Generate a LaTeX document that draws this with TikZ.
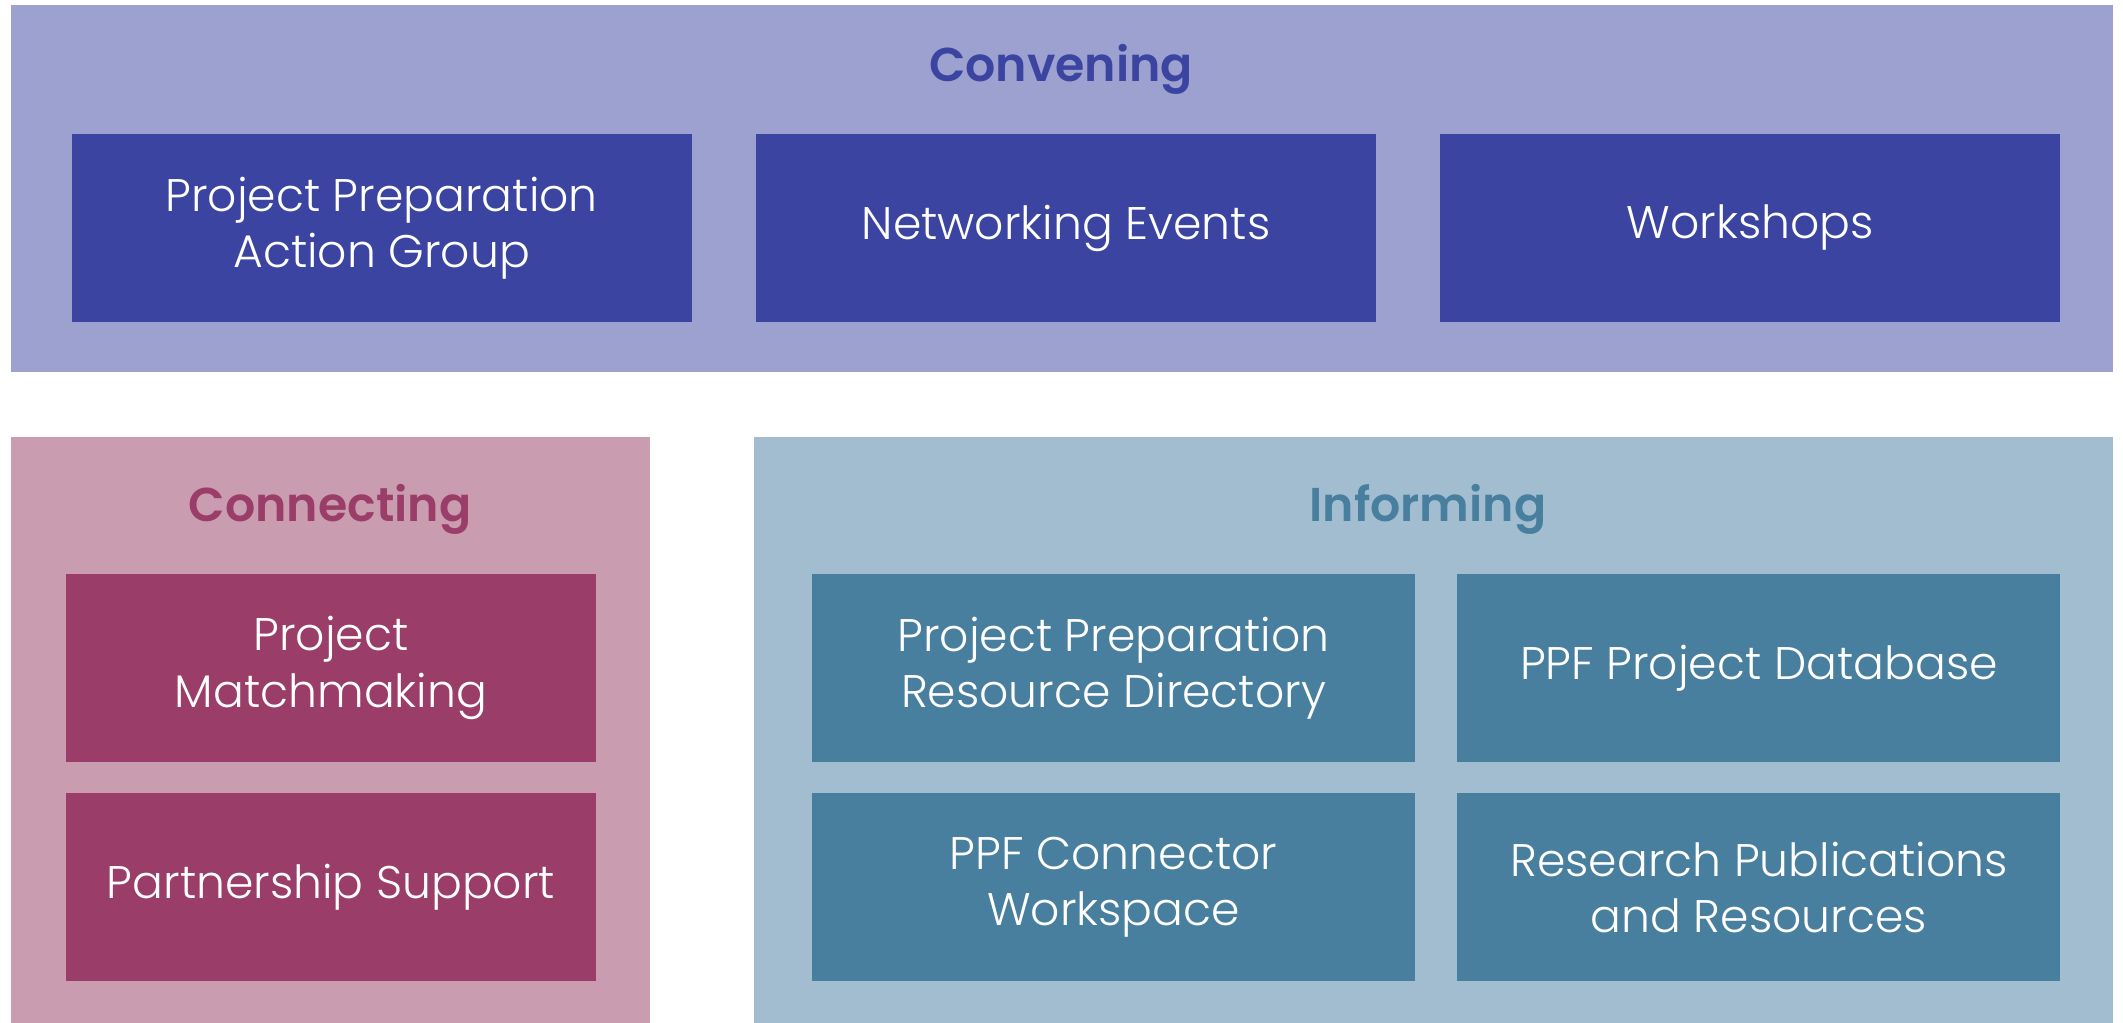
\documentclass[tikz,border=0pt]{standalone}
\usepackage{fontspec}
\setmainfont{Poppins}[UprightFont=* Light, BoldFont=* SemiBold]
\usetikzlibrary{positioning}

\definecolor{convLight}{HTML}{9CA1CF}
\definecolor{convDark}{HTML}{3B44A0}
\definecolor{connLight}{HTML}{C99CB0}
\definecolor{connDark}{HTML}{9A3D69}
\definecolor{infoLight}{HTML}{A3BDD0}
\definecolor{infoDark}{HTML}{487E9E}

\begin{document}
\begin{tikzpicture}[
    node distance=0.3cm,
    panel/.style={rectangle, inner sep=0pt},
    item/.style={rectangle, inner sep=0pt, minimum height=1.88cm, align=center,
        text=white, font=\fontsize{13}{16}\selectfont},
    heading/.style={font=\fontsize{13.5}{16}\selectfont\bfseries},
]
    \useasboundingbox (0,0) rectangle (21.23,10.23);

    % the three groups
    \node[panel, fill=convLight, minimum width=21.02cm, minimum height=3.67cm] (convening) at (10.62,8.345) {};
    \node[panel, fill=connLight, minimum width=6.39cm, minimum height=5.86cm] (connecting) at (3.305,2.93) {};
    \node[panel, fill=infoLight, minimum width=13.59cm, minimum height=5.86cm] (informing) at (14.335,2.93) {};

    \node[heading, text=convDark] (convTitle) at (10.61,9.54) {Convening};
    \node[heading, text=connDark] (connTitle) at (3.30,5.14) {Connecting};
    \node[heading, text=infoDark] (infoTitle) at (14.28,5.14) {Informing};

    % convening row
    \node[item, fill=convDark, minimum width=6.2cm] (events) at (10.66,7.95) {Networking Events};
    \node[item, fill=convDark, minimum width=6.2cm, left=0.63cm of events] (actionGroup) {Project Preparation\\Action Group};
    \node[item, fill=convDark, minimum width=6.2cm, right=0.63cm of events] (workshops) {Workshops};

    % connecting column
    \node[item, fill=connDark, minimum width=5.3cm] (matchmaking) at (3.31,3.55) {Project\\Matchmaking};
    \node[item, fill=connDark, minimum width=5.3cm, below=of matchmaking] (partnership) {Partnership Support};

    % informing grid
    \node[item, fill=infoDark, minimum width=6.03cm] (directory) at (11.135,3.55) {Project Preparation\\Resource Directory};
    \node[item, fill=infoDark, minimum width=6.03cm, right=0.41cm of directory] (database) {PPF Project Database};
    \node[item, fill=infoDark, minimum width=6.03cm, below=of directory] (workspace) {PPF Connector\\Workspace};
    \node[item, fill=infoDark, minimum width=6.03cm, below=of database] (research) {Research Publications\\and Resources};
\end{tikzpicture}
\end{document}
